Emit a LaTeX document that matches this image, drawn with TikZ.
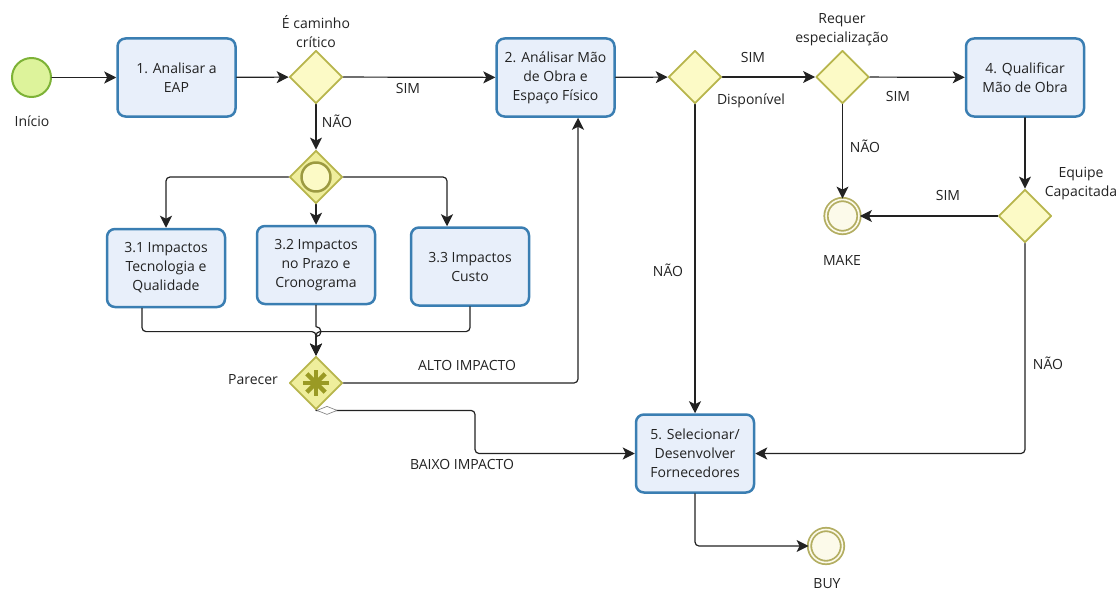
\documentclass[tikz,border=0pt]{standalone}
\usepackage{fontspec}
\setmainfont{Open Sans}
\usetikzlibrary{shapes.geometric,arrows.meta}
\definecolor{taskfill}{HTML}{E8EFFA}
\definecolor{taskline}{HTML}{3A7EB2}
\definecolor{gwfill}{HTML}{FCFAC6}
\definecolor{gwfilldark}{HTML}{EFEE9C}
\definecolor{gwline}{HTML}{B7B54C}
\definecolor{gwmark}{HTML}{9A9A24}
\definecolor{startfill}{HTML}{DDF39B}
\definecolor{startline}{HTML}{7DB236}
\definecolor{endfill}{HTML}{FCFAEA}
\definecolor{endline}{HTML}{B3AE62}
\definecolor{flowcol}{HTML}{222222}
\begin{document}
\begin{tikzpicture}[x=1pt, y=-1pt, line cap=round, line join=round,
    every node/.style={font=\fontsize{14}{19}\selectfont, text=flowcol},
    task/.style={rectangle, rounded corners=8pt, draw=taskline, line width=2.5pt, fill=taskfill,
        minimum width=118pt, minimum height=78pt, align=center, inner sep=2pt},
    gateway/.style={diamond, aspect=1, draw=gwline, fill=gwfill, line width=1.8pt,
        minimum width=53pt, minimum height=53pt, inner sep=0pt},
    startevent/.style={circle, draw=startline, fill=startfill, line width=2pt, minimum size=39pt, inner sep=0pt},
    endevent/.style={circle, draw=endline, double=endfill, double distance=1.6pt, line width=1.8pt,
        fill=endfill, minimum size=33pt, inner sep=0pt},
    flow/.style={draw=flowcol, line width=1.2pt, rounded corners=4pt, -{Stealth[length=12pt, width=12pt, inset=3pt]}},
    lbl/.style={align=center, inner sep=0pt}]
    \useasboundingbox (0,0) rectangle (1118,594);
    \node[startevent] (start) at (31.5,77.5) {};
    \foreach \name/\pos/\txt in {t1/{176.5,77.5}/{1. Analisar a\\EAP},
        t2/{555.5,77.5}/{2. Análisar Mão\\de Obra e\\Espaço Físico},
        t4/{1025,77.5}/{4. Qualificar\\Mão de Obra},
        t31/{166,268}/{3.1 Impactos\\Tecnologia e\\Qualidade},
        t32/{316,265}/{3.2 Impactos\\no Prazo e\\Cronograma},
        t33/{470,266.5}/{3.3 Impactos\\Custo},
        t5/{695,453.5}/{5. Selecionar/\\Desenvolver\\Fornecedores}}
        \node[task] (\name) at (\pos) {\txt};
    \foreach \name/\pos in {g1/{316,77}, g2/{695,77}, g3/{842.5,77}, g4/{1025,216}}
        \node[gateway] (\name) at (\pos) {};
    \node[gateway, fill=gwfilldark] (gi) at (316,177) {};
    \node[gateway, fill=gwfilldark] (parecer) at (316,383) {};
    \draw[gwline!85!black, fill=gwfill, line width=2.5pt] (gi.center) circle (14.5pt);
    \foreach \a in {0,45,90,135}
        \draw[gwmark, line width=4.5pt, line cap=butt] ([shift={(\a:13pt)}]parecer.center) -- ([shift={(\a+180:13pt)}]parecer.center);
    \node[endevent] (make) at (842.5,216) {};
    \node[endevent] (buy) at (826,546) {};

    \draw[flow] (start) -- (t1);
    \draw[flow] (t1) -- (g1);
    \draw[flow] (g1) -- (t2);
    \draw[flow] (g1) -- (gi);
    \draw[flow] (gi.west) -| (t31.north);
    \draw[flow] (gi.south) -- (t32.north);
    \draw[flow] (gi.east) -| ([xshift=-23pt]t33.north);
    \draw[flow] ([xshift=-24pt]t31.south) |- ([yshift=24pt]parecer.north) -- (parecer.north);
    \draw[flow] (t33.south) |- ([yshift=24pt]parecer.north) -- (parecer.north);
    \draw[flow, rounded corners=0pt] (t32.south) -- ([yshift=29pt]parecer.north) arc[start angle=90, end angle=-90, radius=5pt] -- (parecer.north);
    \draw[flow] (parecer.east) -| ([xshift=22.5pt]t2.south);
    \draw[flow] (parecer.south) -- ++(159,0) |- (t5.west);
    \draw[flowcol!60, fill=white, line width=0.6pt] ([xshift=1pt]parecer.south) -- ++(10,-4) -- ++(10,4) -- ++(-10,4) -- cycle;
    \draw[flow] (t2) -- (g2);
    \draw[flow] (g2) -- (g3);
    \draw[flow] (g2) -- (t5);
    \draw[flow] (g3) -- (t4);
    \draw[flow] (g3) -- (make);
    \draw[flow] (t4) -- (g4);
    \draw[flow] (g4) -- (make);
    \draw[flow] (g4.south) |- (t5.east);
    \draw[flow] (t5.south) |- (buy.west);

    \node[lbl] (linicio) at (32,121) {Início};
    \node[lbl] (lcam) at (316,32) {É caminho\\crítico};
    \node[lbl] (lreq) at (842,30) {Requer\\especialização};
    \node[lbl] (lequ) at (1081,184) {Equipe\\Capacitada};
    \node[lbl] (lpar) at (253,380) {Parecer};
    \node[lbl] (lmake) at (842,260) {MAKE};
    \node[lbl] (lbuy) at (827,584) {BUY};
    \node[lbl] (lsim1) at (408,88) {SIM};
    \node[lbl] (lnao1) at (337,121) {NÃO};
    \node[lbl] (lalto) at (467,365) {ALTO IMPACTO};
    \node[lbl] (lbaixo) at (462,464) {BAIXO IMPACTO};
    \node[lbl] (lsim2) at (753,57) {SIM};
    \node[lbl] (ldisp) at (751,101) {Disponível};
    \node[lbl] (lsim3) at (898,96) {SIM};
    \node[lbl] (lnao3) at (865,146) {NÃO};
    \node[lbl] (lsim4) at (948,195) {SIM};
    \node[lbl] (lnao2) at (668,270) {NÃO};
    \node[lbl] (lnao4) at (1048,363) {NÃO};
\end{tikzpicture}
\end{document}
